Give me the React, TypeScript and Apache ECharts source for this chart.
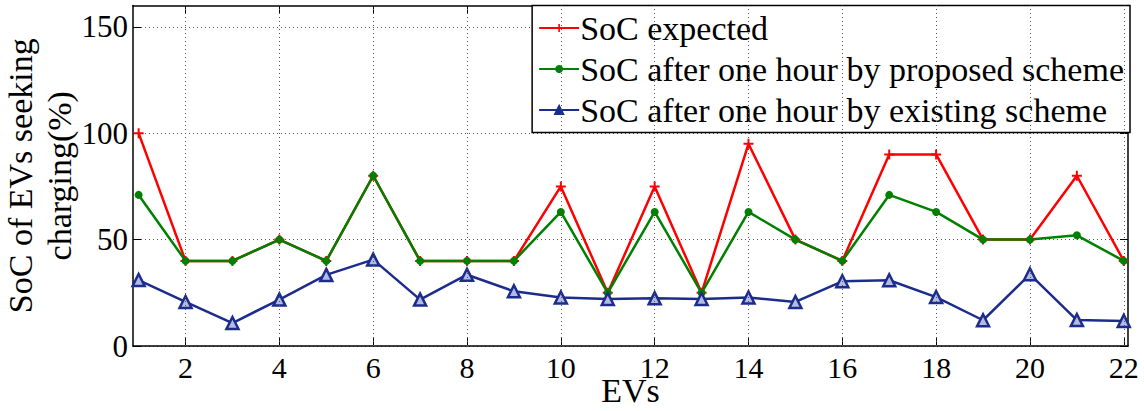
import React, { useEffect, useRef } from "react";
import * as echarts from "echarts";

// EV index along the x axis
const evs: number[] = [1, 2, 3, 4, 5, 6, 7, 8, 9, 10, 11, 12, 13, 14, 15, 16, 17, 18, 19, 20, 21, 22];

// SoC values (%) for each EV
const socExpected: number[] = [100, 40, 40, 50, 40, 80, 40, 40, 40, 75, 25, 75, 25, 95, 50, 40, 90, 90, 50, 50, 80, 40];
const socProposed: number[] = [71, 40, 40, 50, 40, 80, 40, 40, 40, 63, 25, 63, 25, 63, 50, 40, 71, 63, 50, 50, 52, 40];
const socExisting: number[] = [31, 20.7, 10.8, 21.8, 33.4, 40.6, 21.8, 33.5, 25.7, 22.8, 22.1, 22.4, 22.1, 22.8, 20.7, 30.4, 30.9, 23, 12.1, 33.7, 12.2, 11.8];

// Tick labels
const xTicks: number[] = [2, 4, 6, 8, 10, 12, 14, 16, 18, 20, 22];
const yTicks: number[] = [0, 50, 100, 150];

const seriesNames = [
  "SoC expected",
  "SoC after one hour by proposed scheme",
  "SoC after one hour by existing scheme",
];

const RED = "#ff0000";
const GREEN = "#008000";
const BLUE = "#1c2c8c";
const FONT = "'Liberation Serif', 'Times New Roman', 'DejaVu Serif', serif";

const plusPath = "path://M4,0h2v4h4v2h-4v4h-2v-4h-4v-2h4z";

export default function App() {
  const ref = useRef<HTMLDivElement>(null);

  useEffect(() => {
    if (!ref.current) return;
    const chart = echarts.init(ref.current, undefined, { renderer: "svg" });

    const toPairs = (vals: number[]) => evs.map((x, i) => [x, vals[i]]);
    const gridLine = { color: "#555", width: 1, type: [1, 3] as number[] };

    chart.setOption({
      animation: false,
      backgroundColor: "#ffffff",
      grid: {
        left: 133,
        right: 16,
        top: 5.5,
        bottom: 65,
        containLabel: false,
        outerBoundsMode: "none",
      },
      xAxis: [
        {
          type: "value",
          min: 0.88,
          max: 22.09,
          position: "bottom",
          name: "EVs",
          nameLocation: "middle",
          nameGap: 34,
          nameMoveOverlap: false,
          nameTextStyle: { fontFamily: FONT, fontSize: 34, lineHeight: 20, color: "#000" },
          axisLine: { show: true, onZero: false, lineStyle: { color: "#000", width: 1.5 } },
          axisTick: { show: true, inside: true, length: 8, customValues: xTicks, lineStyle: { color: "#000" } },
          axisLabel: {
            customValues: xTicks,
            fontFamily: FONT,
            fontSize: 30,
            lineHeight: 24,
            color: "#000",
            margin: 9.5,
          },
          splitLine: { show: false },
        },
        {
          type: "value",
          min: 0.88,
          max: 22.09,
          position: "top",
          axisLine: { show: true, onZero: false, lineStyle: { color: "#000", width: 1.5 } },
          axisTick: { show: true, inside: true, length: 8, customValues: xTicks, lineStyle: { color: "#000" } },
          axisLabel: { show: false },
          splitLine: { show: false },
        },
      ],
      yAxis: [
        {
          type: "value",
          min: 0,
          max: 160,
          interval: 50,
          position: "left",
          name: "SoC of EVs seeking\ncharging(%)",
          nameLocation: "middle",
          nameGap: 54,
          nameRotate: 90,
          nameMoveOverlap: false,
          nameTextStyle: { fontFamily: FONT, fontSize: 34, color: "#000", lineHeight: 39 },
          axisLine: { show: true, onZero: false, lineStyle: { color: "#000", width: 1.5 } },
          axisTick: { show: true, inside: true, length: 8, customValues: yTicks, lineStyle: { color: "#000" } },
          axisLabel: { customValues: yTicks, fontFamily: FONT, fontSize: 31, color: "#000", margin: 5 },
          splitLine: { show: true, lineStyle: gridLine },
        },
        {
          type: "value",
          min: 0,
          max: 160,
          interval: 50,
          position: "right",
          axisLine: { show: true, onZero: false, lineStyle: { color: "#000", width: 1.5 } },
          axisTick: { show: true, inside: true, length: 8, customValues: yTicks, lineStyle: { color: "#000" } },
          axisLabel: { show: false },
          splitLine: { show: false },
        },
      ],
      legend: {
        orient: "vertical",
        right: 14,
        top: 5.5,
        backgroundColor: "#ffffff",
        borderColor: "#000",
        borderWidth: 1.5,
        borderRadius: 0,
        padding: [2, 6, 2, 6],
        itemGap: 0,
        itemWidth: 40,
        itemHeight: 10,
        textStyle: { fontFamily: FONT, fontSize: 34, lineHeight: 41, color: "#000", padding: [0, 0, 0, -4] },
        data: [
          { name: seriesNames[0] },
          { name: seriesNames[1] },
          { name: seriesNames[2], itemStyle: { color: BLUE, borderColor: BLUE } },
        ],
      },
      series: [
        {
          // vertical dotted grid lines at the labelled EV positions
          type: "line",
          data: [],
          silent: true,
          markLine: {
            silent: true,
            symbol: "none",
            label: { show: false },
            lineStyle: gridLine,
            data: xTicks.map((v) => ({ xAxis: v })),
          },
        },
        {
          name: seriesNames[0],
          type: "line",
          data: toPairs(socExpected),
          symbol: plusPath,
          symbolSize: 10,
          lineStyle: { color: RED, width: 2.5 },
          itemStyle: { color: RED },
        },
        {
          name: seriesNames[1],
          type: "line",
          data: toPairs(socProposed),
          symbol: "circle",
          symbolSize: 8,
          lineStyle: { color: GREEN, width: 2.5 },
          itemStyle: { color: GREEN },
        },
        {
          name: seriesNames[2],
          type: "line",
          data: toPairs(socExisting),
          symbol: "triangle",
          symbolSize: 12,
          lineStyle: { color: BLUE, width: 2.5 },
          itemStyle: { color: "#b4bbe0", borderColor: BLUE, borderWidth: 2.5 },
        },
      ],
    });

    return () => chart.dispose();
  }, []);

  return (
    <div
      ref={ref}
      style={{ position: "fixed", left: 0, top: 0, width: 1144, height: 411, background: "#fff" }}
    />
  );
}
